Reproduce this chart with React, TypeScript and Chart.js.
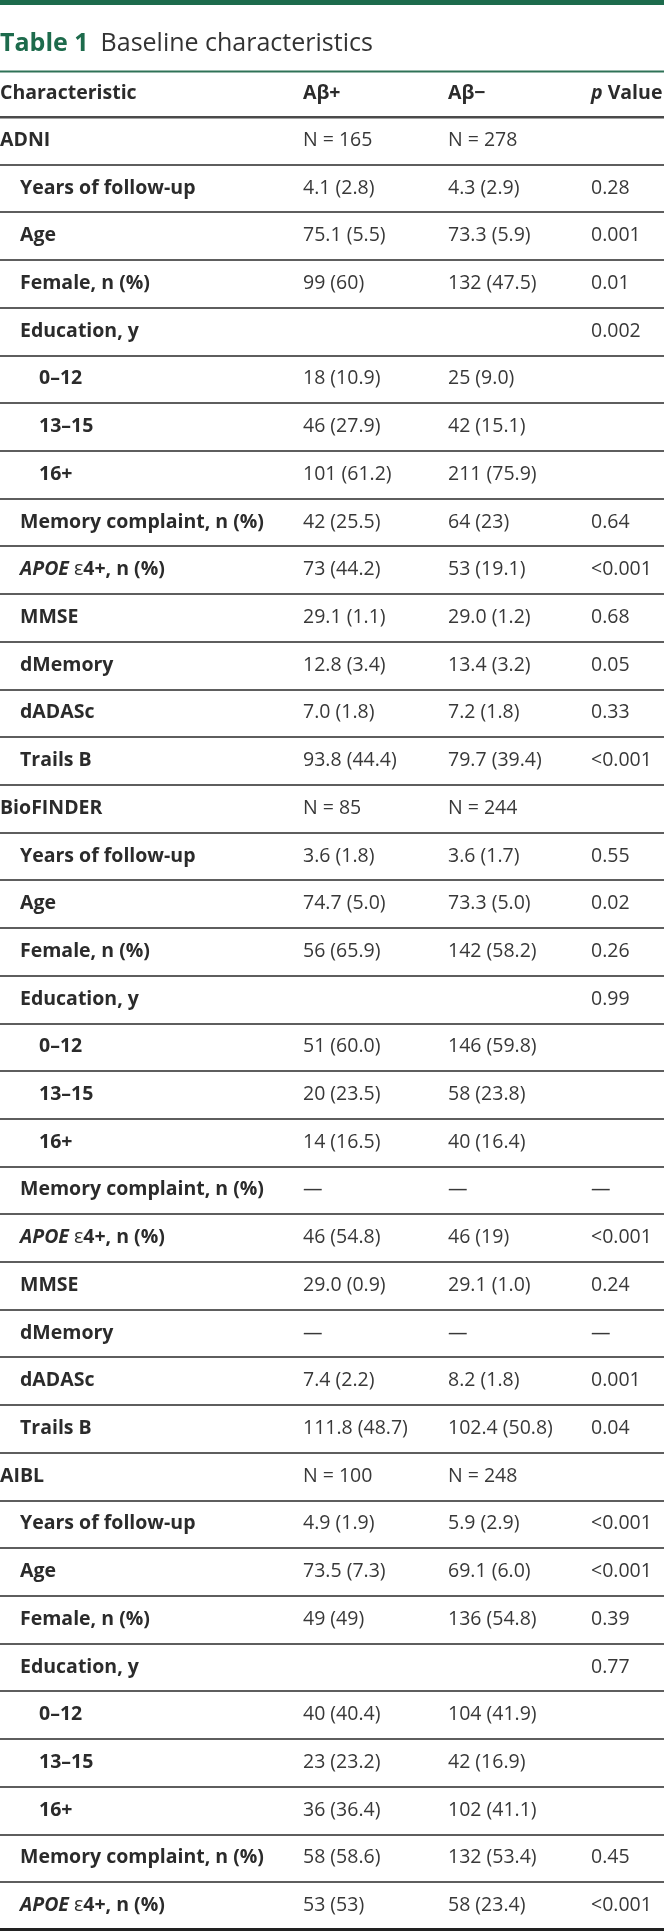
import React, { useEffect, useRef } from "react";
import { Chart, registerables } from "chart.js";

Chart.register(...registerables);

// ---------------- Data ----------------
const tableNumber = "Table 1";
const tableTitle = "Baseline characteristics";
const columnHeaders = ["Characteristic", "Aβ+", "Aβ−", "p Value"];

const cohorts = ["ADNI", "BioFINDER", "AIBL"];
const nPositive = ["N = 165", "N = 85", "N = 100"];
const nNegative = ["N = 278", "N = 244", "N = 248"];

const characteristics = [
  "Years of follow-up",
  "Age",
  "Female, n (%)",
  "Education, y",
  "0–12",
  "13–15",
  "16+",
  "Memory complaint, n (%)",
  "APOE ε4+, n (%)",
  "MMSE",
  "dMemory",
  "dADASc",
  "Trails B",
];
const educationBands = ["0–12", "13–15", "16+"];

const adniPositive = ["4.1 (2.8)", "75.1 (5.5)", "99 (60)", "", "18 (10.9)", "46 (27.9)", "101 (61.2)", "42 (25.5)", "73 (44.2)", "29.1 (1.1)", "12.8 (3.4)", "7.0 (1.8)", "93.8 (44.4)"];
const adniNegative = ["4.3 (2.9)", "73.3 (5.9)", "132 (47.5)", "", "25 (9.0)", "42 (15.1)", "211 (75.9)", "64 (23)", "53 (19.1)", "29.0 (1.2)", "13.4 (3.2)", "7.2 (1.8)", "79.7 (39.4)"];
const adniP = ["0.28", "0.001", "0.01", "0.002", "", "", "", "0.64", "<0.001", "0.68", "0.05", "0.33", "<0.001"];

const bioPositive = ["3.6 (1.8)", "74.7 (5.0)", "56 (65.9)", "", "51 (60.0)", "20 (23.5)", "14 (16.5)", "—", "46 (54.8)", "29.0 (0.9)", "—", "7.4 (2.2)", "111.8 (48.7)"];
const bioNegative = ["3.6 (1.7)", "73.3 (5.0)", "142 (58.2)", "", "146 (59.8)", "58 (23.8)", "40 (16.4)", "—", "46 (19)", "29.1 (1.0)", "—", "8.2 (1.8)", "102.4 (50.8)"];
const bioP = ["0.55", "0.02", "0.26", "0.99", "", "", "", "—", "<0.001", "0.24", "—", "0.001", "0.04"];

const aiblPositive = ["4.9 (1.9)", "73.5 (7.3)", "49 (49)", "", "40 (40.4)", "23 (23.2)", "36 (36.4)", "58 (58.6)", "53 (53)"];
const aiblNegative = ["5.9 (2.9)", "69.1 (6.0)", "136 (54.8)", "", "104 (41.9)", "42 (16.9)", "102 (41.1)", "132 (53.4)", "58 (23.4)"];
const aiblP = ["<0.001", "<0.001", "0.39", "0.77", "", "", "", "0.45", "<0.001"];

const cohortValues = [
  [adniPositive, adniNegative, adniP],
  [bioPositive, bioNegative, bioP],
  [aiblPositive, aiblNegative, aiblP],
];

type Row = { label: string; level: number; cells: string[] };
const rows: Row[] = [];
cohorts.forEach((name, ci) => {
  rows.push({ label: name, level: 0, cells: [nPositive[ci], nNegative[ci], ""] });
  const [pos, neg, p] = cohortValues[ci];
  pos.forEach((v, i) => {
    const label = characteristics[i];
    rows.push({
      label,
      level: educationBands.includes(label) ? 2 : 1,
      cells: [v, neg[i], p[i]],
    });
  });
});

// ---------------- Layout / style ----------------
const W = 664;
const H = 1931;
const FONT = "'Open Sans', 'Noto Sans', sans-serif";
const SIZE = 19.5;
const TITLE_SIZE = 25;
const COL_X = [0, 303, 448, 591];
const INDENT = [0, 20, 39];
const GREEN = "#1d6b4c";
const LABEL_COLOR = "#2b2b2b";
const VALUE_COLOR = "#383838";

type Seg = { text: string; weight: number; italic?: boolean; color: string; size?: number };

function drawSegs(ctx: CanvasRenderingContext2D, segs: Seg[], x: number, y: number) {
  let cx = x;
  for (const s of segs) {
    ctx.font = `${s.italic ? "italic " : ""}${s.weight} ${s.size ?? SIZE}px ${FONT}`;
    ctx.fillStyle = s.color;
    ctx.fillText(s.text, cx, y);
    cx += ctx.measureText(s.text).width;
  }
}

function labelSegs(label: string): Seg[] {
  const m = label.match(/^(APOE)(\s)(ε)(.*)$/);
  if (m) {
    return [
      { text: m[1], weight: 700, italic: true, color: LABEL_COLOR },
      { text: m[2], weight: 700, color: LABEL_COLOR },
      { text: m[3], weight: 400, color: LABEL_COLOR },
      { text: m[4], weight: 700, color: LABEL_COLOR },
    ];
  }
  return [{ text: label, weight: 700, color: LABEL_COLOR }];
}

function headerSegs(h: string): Seg[] {
  const m = h.match(/^(p)(\s.*)$/);
  if (m) {
    return [
      { text: m[1], weight: 700, italic: true, color: LABEL_COLOR },
      { text: m[2], weight: 700, color: LABEL_COLOR },
    ];
  }
  return [{ text: h, weight: 700, color: LABEL_COLOR }];
}

const tablePlugin = {
  id: "tableText",
  afterDraw(chart: any) {
    const ctx: CanvasRenderingContext2D = chart.ctx;
    const yScale = chart.scales.y;
    const left = chart.chartArea.left;
    ctx.save();
    ctx.textBaseline = "alphabetic";
    ctx.textAlign = "left";

    // top band
    ctx.fillStyle = GREEN;
    ctx.fillRect(0, 0, W, 5);

    // title
    ctx.font = `700 ${TITLE_SIZE}px ${FONT}`;
    ctx.fillStyle = GREEN;
    ctx.fillText(tableNumber, 0, 51);
    const tw = ctx.measureText(tableNumber).width;
    ctx.font = `400 ${TITLE_SIZE}px ${FONT}`;
    ctx.fillStyle = "#333333";
    ctx.fillText(tableTitle, tw + 12, 51);

    // top rule
    ctx.fillStyle = "#2f7257";
    ctx.fillRect(0, 70.5, W, 2);

    // header
    const headerY = 99;
    columnHeaders.forEach((h, i) => drawSegs(ctx, headerSegs(h), left + COL_X[i], headerY));

    // rows
    rows.forEach((r, i) => {
      const y = yScale.getPixelForValue(i) + 5;
      drawSegs(ctx, labelSegs(r.label), left + COL_X[0] + INDENT[r.level], y);
      r.cells.forEach((c, j) => {
        if (!c) return;
        drawSegs(ctx, [{ text: c, weight: 400, color: VALUE_COLOR }], left + COL_X[j + 1], y);
      });
    });
    ctx.restore();
  },
};

export default function App() {
  const canvasRef = useRef<HTMLCanvasElement | null>(null);

  useEffect(() => {
    document.body.style.margin = "0";
    const canvas = canvasRef.current;
    if (!canvas) return;
    const chart = new Chart(canvas, {
      type: "bar",
      data: {
        labels: rows.map((r) => r.label),
        datasets: [{ data: rows.map(() => null), backgroundColor: "transparent" }],
      },
      options: {
        indexAxis: "y",
        responsive: false,
        maintainAspectRatio: false,
        animation: false,
        events: [],
        layout: { padding: { top: 117, bottom: 1, left: 0, right: 0 } },
        plugins: {
          legend: { display: false },
          tooltip: { enabled: false },
          title: { display: false },
        },
        scales: {
          x: { display: false, min: 0, max: 1 },
          y: {
            type: "category",
            offset: true,
            ticks: { display: false },
            border: { display: false },
            grid: {
              offset: true,
              drawTicks: false,
              color: (c: any) => (c.type !== "tick" ? "#222222" : c.index === 0 ? "#4a4a4a" : "#5e5e5e"),
              lineWidth: (c: any) => (c.type !== "tick" ? 4 : c.index === 0 ? 2.5 : 2),
            },
          },
        },
      } as any,
      plugins: [tablePlugin],
    });
    return () => chart.destroy();
  }, []);

  return (
    <div style={{ width: W, height: H }}>
      <canvas ref={canvasRef} width={W} height={H} style={{ display: "block" }} />
    </div>
  );
}
